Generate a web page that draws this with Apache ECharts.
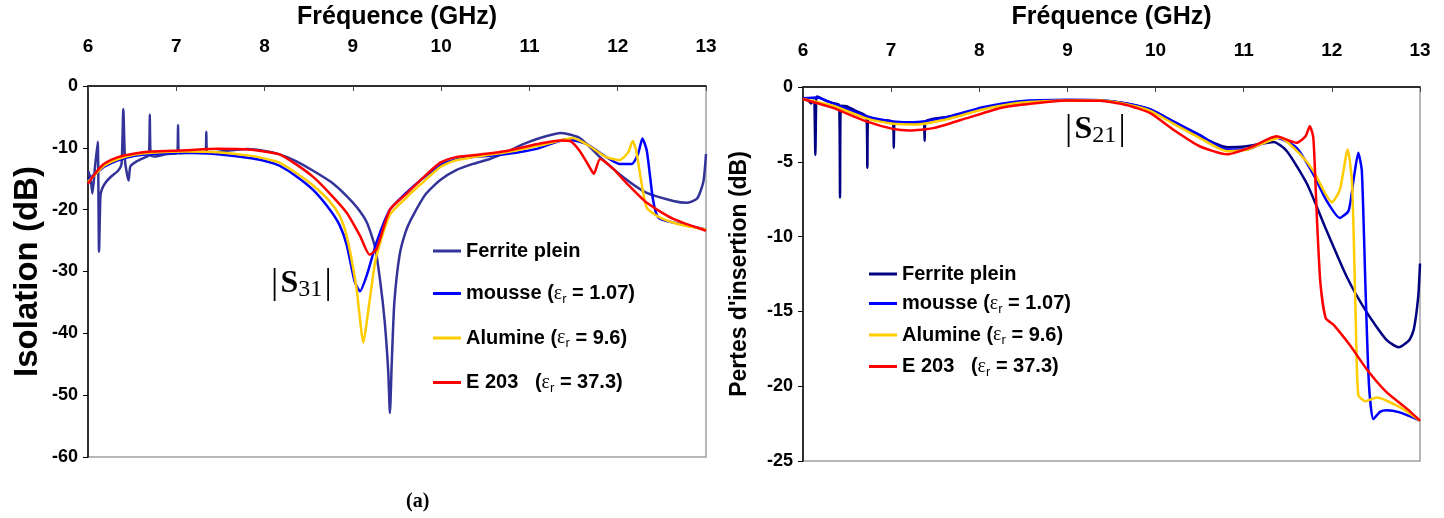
<!DOCTYPE html>
<html>
<head>
<meta charset="utf-8">
<script src="https://cdn.jsdelivr.net/npm/echarts@6/dist/echarts.min.js"></script>
<style>
  html, body { margin: 0; padding: 0; background: #fff; }
  #chart { width: 1444px; height: 518px; }
</style>
</head>
<body>
<div id="chart"></div>
<script>
// ---- |S31| isolation (left) ----
const s31FerriteF = [6.0, 6.03, 6.05, 6.08, 6.11, 6.125, 6.14, 6.155, 6.19, 6.25, 6.34, 6.38, 6.40, 6.42, 6.46, 6.48, 6.55, 6.65, 6.69, 6.70, 6.71, 6.75, 6.9, 7.01, 7.02, 7.03, 7.2, 7.33, 7.34, 7.35, 7.5, 7.8, 8.0, 8.17, 8.35, 8.55, 8.75, 8.93, 9.05, 9.16, 9.25, 9.31, 9.36, 9.40, 9.42, 9.44, 9.47, 9.53, 9.6, 9.68, 9.83, 9.99, 10.17, 10.36, 10.55, 10.74, 10.93, 11.12, 11.36, 11.57, 11.8, 12.06, 12.33, 12.63, 12.78, 12.9, 12.97, 13.0];
const s31FerriteDb = [-13.7, -15, -17.4, -13, -9.0, -26.8, -18, -16.8, -15.8, -14.8, -13.7, -12.6, -3.7, -12.2, -15.3, -13.0, -12.2, -11.5, -11.2, -4.6, -11.2, -11.4, -11.0, -10.9, -6.3, -10.9, -10.8, -10.8, -7.4, -10.8, -10.6, -10.2, -10.5, -11.05, -12.1, -13.7, -15.5, -17.8, -19.7, -22.1, -26, -31.6, -38, -46, -52.9, -45, -35, -27.3, -23.5, -21, -17.4, -15.2, -13.6, -12.6, -11.8, -10.7, -9.4, -8.4, -7.6, -8.4, -11.5, -14.7, -17.3, -18.6, -18.9, -18.2, -15.5, -11.0];

const s31MousseF = [6.0, 6.1, 6.19, 6.34, 6.53, 6.72, 7.1, 7.47, 7.85, 8.08, 8.17, 8.35, 8.55, 8.74, 8.85, 8.93, 9.02, 9.08, 9.16, 9.27, 9.42, 9.61, 9.76, 9.99, 10.17, 10.36, 10.55, 10.74, 10.93, 11.12, 11.42, 11.65, 11.87, 12.02, 12.16, 12.23, 12.28, 12.33, 12.40, 12.46, 12.63, 12.8, 13.0];
const s31MousseDb = [-15.2, -14.0, -13.0, -12.0, -11.3, -11.0, -10.8, -11.05, -11.7, -12.4, -12.9, -14.5, -16.8, -20, -22.5, -25.7, -31.6, -33.2, -30.5, -25.2, -20, -17.2, -15.3, -12.8, -11.9, -11.5, -11.3, -11.0, -10.6, -10.0, -8.6, -9.4, -11.5, -12.6, -12.6, -11.0, -8.5, -10.5, -18.4, -21.3, -22.1, -22.6, -23.2];

const s31AlumineF = [6.0, 6.1, 6.19, 6.34, 6.53, 6.72, 7.1, 7.47, 7.85, 8.08, 8.17, 8.35, 8.55, 8.74, 8.85, 8.93, 9.04, 9.12, 9.16, 9.23, 9.27, 9.42, 9.61, 9.76, 9.99, 10.17, 10.36, 10.55, 10.74, 10.93, 11.12, 11.35, 11.49, 11.68, 11.87, 12.02, 12.12, 12.17, 12.21, 12.27, 12.33, 12.48, 12.7, 13.0];
const s31AlumineDb = [-15.5, -14.0, -12.8, -11.8, -11.1, -10.8, -10.6, -10.7, -11.3, -12.0, -12.4, -14.0, -16.1, -18.7, -21, -24.2, -32.6, -41.5, -37.9, -30.5, -27.3, -20.8, -18, -16, -13.1, -12.0, -11.5, -11.1, -10.7, -10.2, -9.6, -8.8, -8.4, -9.7, -11.5, -12.0, -10.7, -8.9, -10.5, -15.7, -19.7, -21.3, -22.4, -23.2];

const s31E203F = [6.0, 6.1, 6.19, 6.34, 6.53, 6.72, 7.1, 7.47, 7.85, 8.08, 8.17, 8.35, 8.55, 8.74, 8.93, 9.08, 9.19, 9.27, 9.42, 9.61, 9.76, 9.99, 10.17, 10.36, 10.74, 11.12, 11.35, 11.46, 11.57, 11.68, 11.73, 11.80, 11.95, 12.10, 12.33, 12.63, 13.0];
const s31E203Db = [-15.8, -13.8, -12.5, -11.5, -10.9, -10.6, -10.4, -10.15, -10.3, -10.8, -11.05, -12.6, -14.7, -17.4, -20.5, -24.2, -27.3, -26.3, -20, -17.4, -15.3, -12.4, -11.5, -11.2, -10.5, -9.3, -8.8, -8.9, -10.5, -13.1, -14.2, -11.8, -13.4, -15.7, -18.9, -21.5, -23.4];

// ---- |S21| pertes d'insertion (right) ----
const s21FerriteF = [6.0, 6.06, 6.09, 6.12, 6.13, 6.14, 6.15, 6.16, 6.25, 6.34, 6.41, 6.42, 6.43, 6.5, 6.6, 6.72, 6.73, 6.74, 6.85, 7.02, 7.03, 7.04, 7.2, 7.37, 7.38, 7.39, 7.67, 8.04, 8.46, 9.0, 9.37, 9.67, 9.94, 10.2, 10.5, 10.81, 11.03, 11.34, 11.49, 11.72, 11.94, 12.17, 12.40, 12.62, 12.76, 12.88, 12.93, 12.98, 13.0];
const s21FerriteDb = [-0.75, -0.9, -1.1, -0.9, -1.0, -4.55, -0.8, -0.64, -0.9, -1.08, -1.2, -7.4, -1.25, -1.3, -1.6, -1.97, -5.4, -2.0, -2.2, -2.34, -4.07, -2.36, -2.38, -2.34, -3.6, -2.3, -1.97, -1.45, -1.05, -0.9, -0.9, -1.1, -1.5, -2.3, -3.3, -4.02, -3.96, -3.67, -4.29, -6.5, -9.6, -12.7, -15.1, -16.9, -17.4, -16.9, -16.2, -14.0, -11.8];

const s21MousseF = [6.0, 6.16, 6.34, 6.72, 7.02, 7.2, 7.37, 7.67, 8.04, 8.46, 9.0, 9.37, 9.67, 9.94, 10.2, 10.5, 10.81, 11.03, 11.2, 11.37, 11.6, 11.79, 11.94, 12.09, 12.19, 12.25, 12.30, 12.34, 12.38, 12.42, 12.47, 12.55, 12.62, 12.77, 13.0];
const s21MousseDb = [-0.75, -0.7, -1.1, -1.95, -2.3, -2.35, -2.3, -1.95, -1.35, -0.95, -0.85, -0.88, -1.1, -1.5, -2.3, -3.2, -4.18, -4.18, -3.8, -3.4, -4.07, -5.84, -7.6, -8.75, -8.27, -6.05, -4.4, -5.6, -13.1, -19.8, -22.2, -21.7, -21.6, -21.75, -22.3];

const s21AlumineF = [6.0, 6.34, 6.72, 7.02, 7.3, 7.67, 8.04, 8.46, 9.0, 9.37, 9.67, 9.94, 10.2, 10.5, 10.81, 11.03, 11.2, 11.41, 11.64, 11.79, 12.0, 12.09, 12.18, 12.23, 12.27, 12.30, 12.38, 12.51, 12.77, 13.0];
const s21AlumineDb = [-0.8, -1.25, -2.1, -2.45, -2.5, -2.1, -1.5, -1.05, -0.9, -0.9, -1.15, -1.6, -2.45, -3.4, -4.29, -4.2, -3.8, -3.4, -4.5, -5.6, -7.7, -6.9, -4.18, -6.5, -15.3, -20.6, -21.0, -20.75, -21.4, -22.3];

const s21E203F = [6.0, 6.34, 6.72, 7.02, 7.21, 7.48, 7.86, 8.24, 8.46, 9.0, 9.37, 9.67, 9.94, 10.2, 10.5, 10.81, 11.11, 11.37, 11.6, 11.70, 11.75, 11.79, 11.83, 11.87, 11.93, 12.02, 12.21, 12.40, 12.62, 12.85, 13.0];
const s21E203Db = [-0.8, -1.4, -2.3, -2.8, -2.9, -2.75, -2.08, -1.4, -1.2, -0.9, -0.92, -1.2, -1.75, -2.85, -3.96, -4.5, -3.96, -3.3, -3.73, -3.3, -2.63, -3.4, -8.7, -13.1, -15.45, -15.9, -17.3, -18.9, -20.4, -21.5, -22.3];

const seriesNames = ['Ferrite plein', 'mousse', 'Alumine', 'E 203'];
const legendLabels = {
    'Ferrite plein': '{t|Ferrite plein}',
    'mousse': '{t|mousse (}{e|ε}{s|r}{t| = 1.07)}',
    'Alumine': '{t|Alumine (}{e|ε}{s|r}{t| = 9.6)}',
    'E 203': '{t|E 203   (}{e|ε}{s|r}{t| = 37.3)}'
};
const leftColors = ['#333399', '#0000ff', '#ffcc00', '#ff0000'];
const rightColors = ['#000080', '#0000ff', '#ffcc00', '#ff0000'];

function toPairs(f, v) {
    return f.map((x, i) => [x, v[i]]);
}

const sansFont = 'Liberation Sans, Arial, sans-serif';
const serifFont = 'Liberation Serif, Times New Roman, serif';

function xAxisFor(gridIndex, labelMargin, nameGap) {
    return {
        gridIndex: gridIndex,
        type: 'value',
        min: 6,
        max: 13,
        interval: 1,
        position: 'top',
        axisLine: { onZero: false, lineStyle: { color: '#000', width: 1.5 } },
        axisTick: { show: true, inside: true, length: 5, lineStyle: { color: '#444' } },
        splitLine: { show: false },
        axisLabel: { color: '#000', fontSize: 19, fontWeight: 'bold', fontFamily: sansFont, margin: labelMargin },
        name: 'Fréquence (GHz)',
        nameLocation: 'middle',
        nameGap: nameGap,
        nameTextStyle: { color: '#000', fontSize: 25, fontWeight: 'bold', fontFamily: sansFont }
    };
}

function yAxisFor(gridIndex, min, interval, name, nameGap, nameSize) {
    return {
        gridIndex: gridIndex,
        type: 'value',
        min: min,
        max: 0,
        interval: interval,
        axisLine: { show: true, onZero: false, lineStyle: { color: '#000', width: 1.5 } },
        axisTick: { show: true, length: 5, lineStyle: { color: '#000' } },
        splitLine: { show: false },
        axisLabel: { color: '#000', fontSize: 18, fontWeight: 'bold', fontFamily: sansFont, margin: 10 },
        name: name,
        nameLocation: 'middle',
        nameRotate: 90,
        nameGap: nameGap,
        nameTextStyle: { color: '#000', fontSize: nameSize, fontWeight: 'bold', fontFamily: sansFont }
    };
}

function lineSeries(name, idx, data, color) {
    return {
        name: name,
        type: 'line',
        xAxisIndex: idx,
        yAxisIndex: idx,
        data: data,
        showSymbol: false,
        symbol: 'none',
        smooth: 0.2,
        lineStyle: { color: color, width: 2.5 },
        itemStyle: { color: color },
        animation: false
    };
}

function legendFor(names, left, top, gap, size) {
    return {
        orient: 'vertical',
        left: left,
        top: top,
        itemGap: gap,
        itemWidth: 28,
        itemHeight: 3,
        icon: 'rect',
        data: names,
        selectedMode: false,
        formatter: function(name) {
            return legendLabels[name.trim()];
        },
        textStyle: {
            rich: {
                t: { fontSize: size, fontWeight: 'bold', fontFamily: sansFont, color: '#000', lineHeight: size + 4 },
                e: { fontSize: size, fontFamily: serifFont, color: '#000', lineHeight: size + 4 },
                s: { fontSize: size - 7, fontFamily: sansFont, color: '#000', verticalAlign: 'bottom', lineHeight: size - 2 }
            }
        }
    };
}

const leftData = [
    toPairs(s31FerriteF, s31FerriteDb),
    toPairs(s31MousseF, s31MousseDb),
    toPairs(s31AlumineF, s31AlumineDb),
    toPairs(s31E203F, s31E203Db)
];
const rightData = [
    toPairs(s21FerriteF, s21FerriteDb),
    toPairs(s21MousseF, s21MousseDb),
    toPairs(s21AlumineF, s21AlumineDb),
    toPairs(s21E203F, s21E203Db)
];
// right chart series get a trailing space so each legend keeps its own colours
const rightNames = seriesNames.map(n => n + ' ');

const series = [];
seriesNames.forEach((n, i) => series.push(lineSeries(n, 0, leftData[i], leftColors[i])));
rightNames.forEach((n, i) => series.push(lineSeries(n, 1, rightData[i], rightColors[i])));

const sLabel = function(sub) {
    return '{b||}{g| }{s|S}{n|' + sub + '}{g| }{b||}';
};
const sRich = {
    b: { fontSize: 36, fontFamily: serifFont, color: '#000' },
    g: { fontSize: 8 },
    s: { fontSize: 32, fontWeight: 'bold', fontFamily: serifFont, color: '#000' },
    n: { fontSize: 24, fontFamily: serifFont, color: '#000', verticalAlign: 'bottom', padding: [12, 0, 0, 0] }
};

const eChart = echarts.init(document.getElementById('chart'));
const option = {
    backgroundColor: '#fff',
    animation: false,
    grid: [
        { left: 88, top: 77, width: 618, height: 380, show: true, borderColor: '#a0a0a0', borderWidth: 1.5, backgroundColor: 'transparent' },
        { left: 803, top: 84, width: 617, height: 377, show: true, borderColor: '#a0a0a0', borderWidth: 1.5, backgroundColor: 'transparent' }
    ],
    xAxis: [xAxisFor(0, 30, 56), xAxisFor(1, 27, 57)],
    yAxis: [
        yAxisFor(0, -60, 10, 'Isolation (dB)', 44, 33),
        yAxisFor(1, -25, 5, "Pertes d'insertion (dB)", 52, 23)
    ],
    legend: [
        legendFor(seriesNames, 428, 236, 22.5, 20),
        legendFor(rightNames, 864, 259, 9.5, 20)
    ],
    graphic: [
        { type: 'text', left: 271, top: 266, style: { text: sLabel('31'), rich: sRich } },
        { type: 'text', left: 1065, top: 112, style: { text: sLabel('21'), rich: sRich } },
        { type: 'text', left: 406, top: 492, style: { text: '(a)', fontSize: 20, fontWeight: 'bold', fontFamily: serifFont, fill: '#000' } }
    ],
    series: series
};
eChart.setOption(option);
</script>
</body>
</html>
